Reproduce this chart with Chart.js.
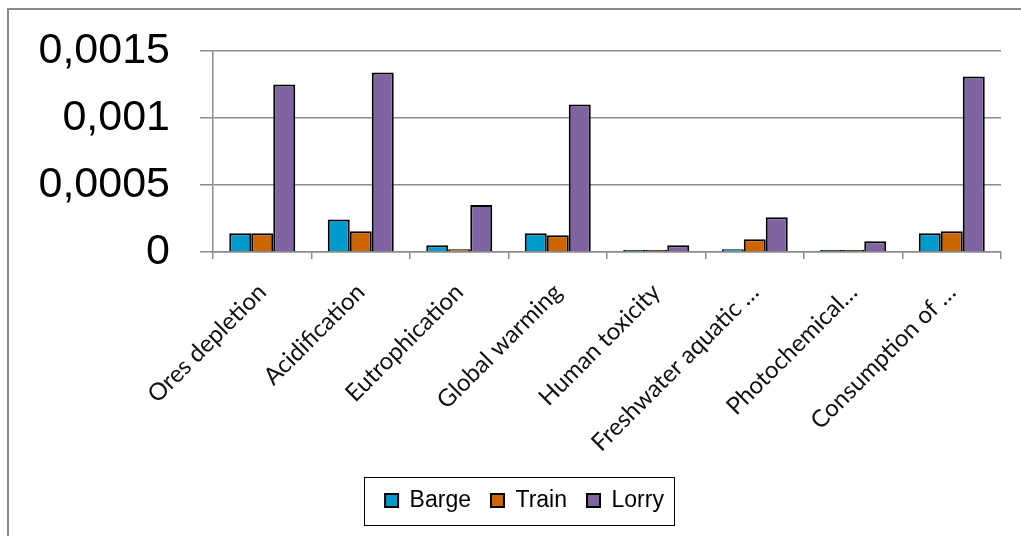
<!DOCTYPE html>
<html>
<head>
<meta charset="utf-8">
<script src="https://cdn.jsdelivr.net/npm/chart.js@4"></script>
<style>
  html, body { margin: 0; padding: 0; background: #fff; }
  #wrap { width: 1021px; height: 536px; position: relative; }
</style>
</head>
<body>
<div id="wrap"><canvas id="c" width="1021" height="536"></canvas></div>
<script>
// Impact categories and transport modes
const categories = [
  'Ores depletion', 'Acidification', 'Eutrophication', 'Global warming',
  'Human toxicity', 'Freshwater aquatic \u2026', 'Photochemical\u2026', 'Consumption of \u2026'
];
const barge = [0.00014, 0.000243, 0.00005, 0.00014, 0.000005, 0.00002, 0.000003, 0.00014];
const train = [0.00014, 0.000155, 0.00002, 0.000125, 0.000005, 0.000095, 0.000003, 0.000155];
const lorry = [0.00125, 0.00134, 0.00035, 0.0011, 0.00005, 0.00026, 0.00008, 0.00131];

const yTickValues = [0, 0.0005, 0.001, 0.0015];
const yTickLabels = ['0', '0,0005', '0,001', '0,0015'];

const GRID = '#8c8c8c';
const LEGEND_SHIFT = 24;

// Outer frame (top and left edges), legend placement and the box around the legend
const framePlugin = {
  id: 'frame',
  afterLayout(chart) {
    const lg = chart.legend;
    if (lg) { lg.left += LEGEND_SHIFT; lg.right += LEGEND_SHIFT; }
  },
  afterDraw(chart) {
    const ctx = chart.ctx;
    ctx.save();
    ctx.strokeStyle = '#8a8a8a';
    ctx.lineWidth = 2;
    ctx.beginPath();
    ctx.moveTo(8, chart.height);
    ctx.lineTo(8, 9);
    ctx.lineTo(chart.width, 9);
    ctx.stroke();

    const boxes = chart.legend && chart.legend.legendHitBoxes;
    if (boxes && boxes.length) {
      const l = Math.min(...boxes.map(b => b.left)) - 21;
      const r = Math.max(...boxes.map(b => b.left + b.width)) + 10;
      const cy = (Math.min(...boxes.map(b => b.top)) + Math.max(...boxes.map(b => b.top + b.height))) / 2;
      const t = cy - 24;
      const btm = cy + 24;
      ctx.strokeStyle = '#000';
      ctx.lineWidth = 1;
      ctx.strokeRect(Math.round(l) + 0.5, Math.round(t) + 0.5, Math.round(r - l), Math.round(btm - t));
    }
    ctx.restore();
  }
};

const mkSet = (label, data, color) => ({
  label, data,
  backgroundColor: color,
  borderColor: '#000',
  borderWidth: 2,
  minBarLength: 2,
  categoryPercentage: 0.67,
  barPercentage: 1.0
});

new Chart(document.getElementById('c'), {
  type: 'bar',
  data: {
    labels: categories,
    datasets: [
      mkSet('Barge', barge, '#009ACD'),
      mkSet('Train', train, '#CC6600'),
      mkSet('Lorry', lorry, '#8064A2')
    ]
  },
  options: {
    responsive: false,
    animation: false,
    layout: { padding: { left: 0, right: 20, top: 51, bottom: 14 } },
    plugins: {
      tooltip: { enabled: false },
      legend: {
        position: 'bottom',
        labels: {
          boxWidth: 13,
          boxHeight: 13,
          padding: 20,
          color: '#000',
          font: { family: 'Liberation Sans', size: 23 }
        }
      }
    },
    scales: {
      y: {
        min: 0,
        max: 0.0015,
        afterBuildTicks(scale) { scale.ticks = yTickValues.map(v => ({ value: v })); },
        afterFit(scale) {
          scale.width = 213;
          scale.paddingTop = 20;
          scale.paddingBottom = 20;
        },
        ticks: {
          padding: 30,
          color: '#000',
          font: { family: 'Liberation Sans', size: 43 },
          callback(v) { return yTickLabels[yTickValues.indexOf(v)]; }
        },
        grid: { color: GRID, lineWidth: 1.5, tickLength: 13 },
        border: { color: GRID, width: 1.5 }
      },
      x: {
        afterFit(scale) { scale.height = 217; },
        ticks: {
          minRotation: 45,
          maxRotation: 45,
          autoSkip: false,
          padding: 19,
          color: '#111',
          font: { family: 'Lato', size: 24 }
        },
        grid: { color: GRID, lineWidth: 1.5, drawOnChartArea: false, tickLength: 7, offset: true },
        border: { color: GRID, width: 1.5 }
      }
    }
  },
  plugins: [framePlugin]
});
</script>
</body>
</html>
